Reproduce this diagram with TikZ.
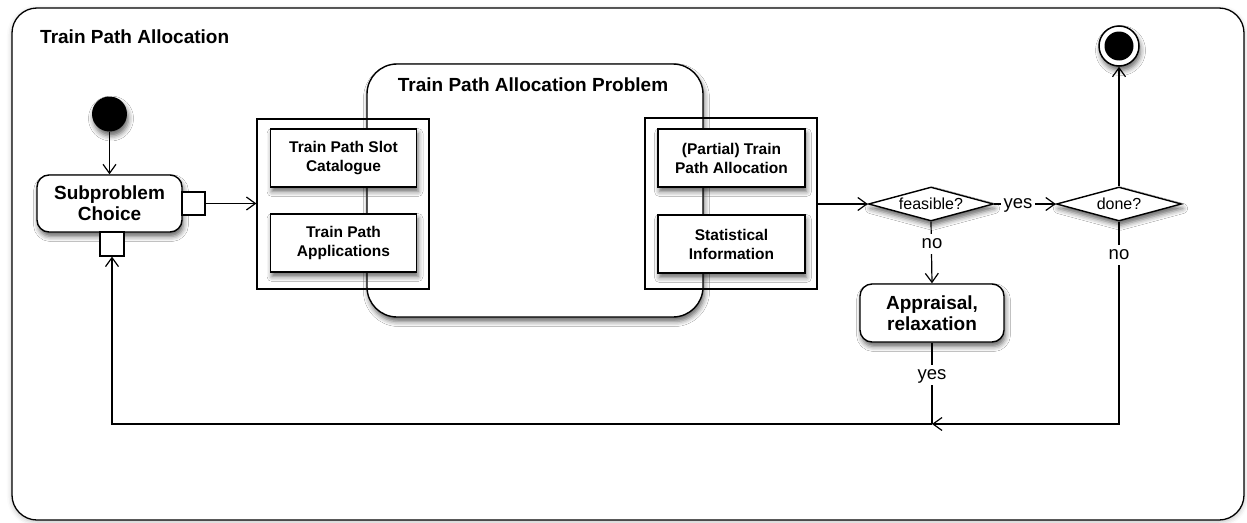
\documentclass[tikz,border=0pt]{standalone}
\usepackage{fontspec}
\setmainfont{Liberation Sans}
\usetikzlibrary{arrows.meta,shapes.geometric,shadows.blur}
\begin{document}
\begin{tikzpicture}[x=1pt,y=-1pt,
  line/.style={line width=1.2pt},
  conn/.style={line width=1.2pt,-{Straight Barb[length=9pt,width=13pt,line width=1.2pt]}},
  shad/.style={blur shadow={shadow xshift=1.5pt,shadow yshift=-4.5pt,shadow blur radius=5pt,shadow opacity=60}},
  action/.style={draw,line width=1.4pt,fill=white,rounded corners=12pt,shad,align=center,
    inner sep=0pt,minimum width=145pt,minimum height=57pt,font=\fontsize{19}{21}\selectfont\bfseries},
  objbox/.style={draw,line width=1.4pt,fill=white,shad,align=center,inner sep=0pt,
    minimum width=146pt,minimum height=58pt,font=\fontsize{15.5}{19}\selectfont\bfseries},
  pinbox/.style={draw,line width=1.2pt,fill=white,inner sep=0pt,minimum width=23pt,minimum height=23pt},
  groupbox/.style={draw,line width=1.2pt,inner sep=0pt},
  decision/.style={diamond,aspect=3.7,draw,line width=1.4pt,fill=white,shad,inner sep=0pt,
    minimum width=125pt,minimum height=34pt,font=\fontsize{16}{18}\selectfont},
  lab/.style={fill=white,inner xsep=3pt,inner ysep=5pt,text height=9.3pt,text depth=0pt,font=\fontsize{18.5}{20}\selectfont},
  title/.style={font=\fontsize{19}{22}\selectfont\bfseries,inner sep=0pt}
]
\useasboundingbox (0,0) rectangle (1247,522);
% outer frame
\draw[line width=1.3pt,rounded corners=25pt,fill=white,
  blur shadow={shadow xshift=0pt,shadow yshift=-2pt,shadow blur radius=5pt,shadow opacity=25}]
  (12,8) rectangle (1244,520);
\node[title,anchor=base west] (maintitle) at (40,43) {Train Path Allocation};

% big problem box
\node[draw,line width=1.4pt,fill=white,rounded corners=30pt,shad,inner sep=0pt,
  minimum width=336pt,minimum height=253pt] (prob) at (535,190.5) {};
\node[title,anchor=base] (probtitle) at (533,91) {Train Path Allocation Problem};

% group frames
\node[groupbox,minimum width=172pt,minimum height=170pt] (frameL) at (343,204) {};
\node[groupbox,minimum width=172pt,minimum height=171pt] (frameR) at (731,203.5) {};

% object boxes
\node[objbox] (L1) at (343.5,158) {Train Path Slot\\Catalogue};
\node[objbox] (L2) at (343.5,243) {Train Path\\Applications};
\node[objbox,minimum width=147pt] (R1) at (731.5,158) {(Partial) Train\\Path Allocation};
\node[objbox,minimum width=147pt] (R2) at (731.5,244) {Statistical\\Information};

% start node
\node[circle,fill=black,inner sep=0pt,minimum size=35pt,shad] (start) at (109.5,114) {};
% subproblem choice
\node[action] (sub) at (109.5,203.5) {Subproblem\\Choice};
\node[pinbox] (pinR) at (193.5,203.5) {};
\node[pinbox,minimum width=24pt,minimum height=24pt] (pinB) at (112,244) {};

% decisions
\node[decision] (feas) at (931,204) {feasible?};
\node[decision] (done) at (1119,204) {done?};

% end node
\node[circle,draw,line width=1.5pt,fill=white,inner sep=0pt,minimum size=40pt,shad] (endo) at (1119,46) {};
\node[circle,fill=black,inner sep=0pt,minimum size=29pt] (endi) at (1119,46) {};

% appraisal
\node[action,minimum width=144pt,minimum height=58pt] (appr) at (932,313) {Appraisal,\\relaxation};

\coordinate (join) at (932,424);

% connectors
\draw[conn] (start) -- (sub.north);
\draw[conn] (pinR.east) -- (frameL.west |- pinR.east);
\draw[conn] (frameR.east |- feas.west) -- (feas.west);
\draw[conn] (feas.east) -- (done.west);
\draw[conn] (done.north) -- (endo.south);
\draw[conn] (feas.south) -- (appr.north);
\draw[conn] (done.south) |- (join);
\draw[line] (appr.south) -- (join);
\draw[conn] (join) -| (pinB.south);

% labels
\node[lab] (lyes1) at (1018,204) {yes};
\node[lab] (lno1) at (932,244) {no};
\node[lab] (lno2) at (1119,255) {no};
\node[lab] (lyes2) at (932,375) {yes};
\end{tikzpicture}
\end{document}
